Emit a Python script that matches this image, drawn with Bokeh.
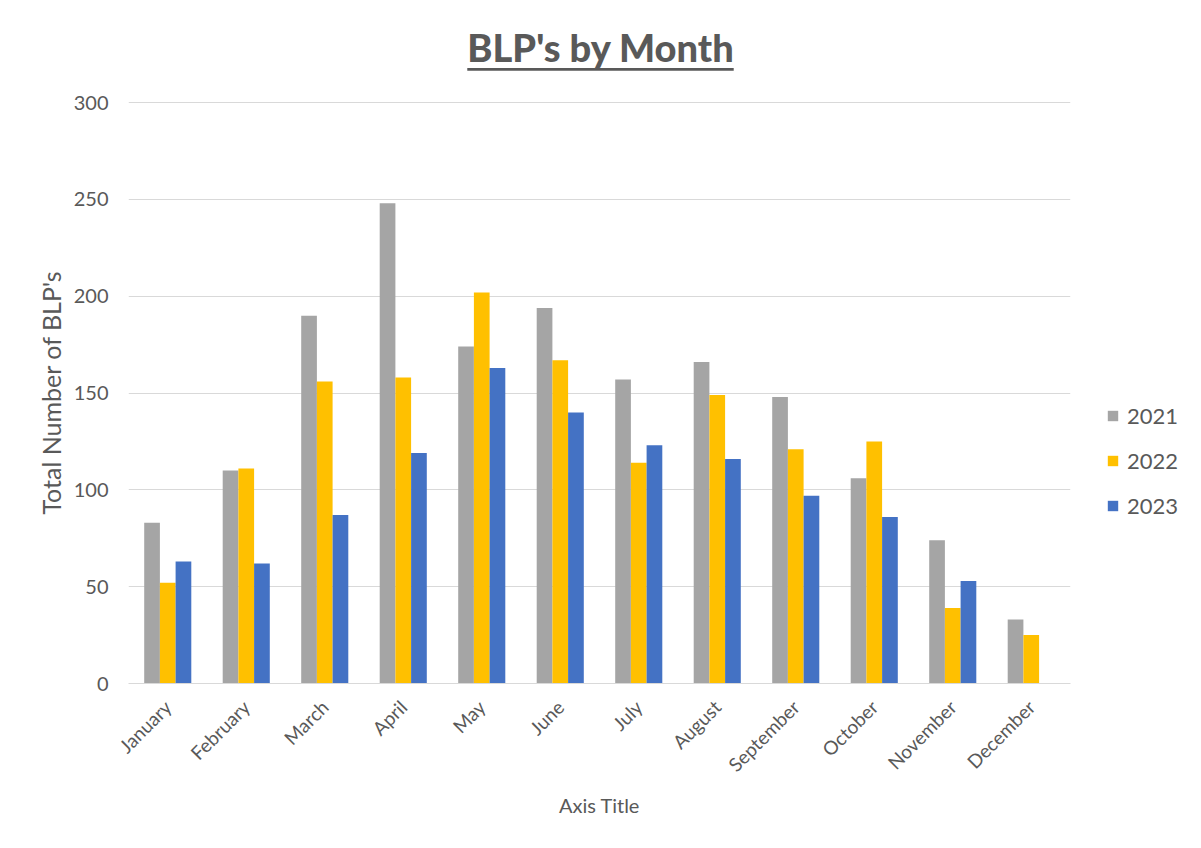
import math
from bokeh.plotting import figure
from bokeh.models import ColumnDataSource, FactorRange, Range1d, FixedTicker, Legend, LegendItem, Div
from bokeh.layouts import column
from bokeh.transform import dodge
from bokeh.embed import file_html
from bokeh.resources import INLINE

months = ["January", "February", "March", "April", "May", "June", "July",
          "August", "September", "October", "November", "December"]
y2021 = [83, 110, 190, 248, 174, 194, 157, 166, 148, 106, 74, 33]
y2022 = [52, 111, 156, 158, 202, 167, 114, 149, 121, 125, 39, 25]
y2023 = [63, 62, 87, 119, 163, 140, 123, 116, 97, 86, 53, 0]
series_names = ["2021", "2022", "2023"]
colors = ["#A5A5A5", "#FFC000", "#4472C4"]
y_ticks = [0, 50, 100, 150, 200, 250, 300]

FONT = "Lato"
TXT = "#595959"

source = ColumnDataSource(dict(month=months, y2021=y2021, y2022=y2022, y2023=y2023))

title = Div(
    text="<div style=\"width:1201px;text-align:center;font-family:'Lato';font-weight:900;"
         "font-size:38px;color:#595959;text-decoration:underline;text-underline-offset:6px;"
         "text-decoration-thickness:3px;padding-top:20px;\">BLP's by Month</div>",
    width=1185, height=70, margin=(0, 0, 0, 0))

p = figure(x_range=FactorRange(*months), y_range=Range1d(0, 300.6),
           frame_width=942, frame_height=582, output_backend="svg", toolbar_location=None,
           min_border_left=128, min_border_right=115, min_border_top=31, min_border_bottom=149,
           margin=(0, 0, 0, 0))
p.x_range.range_padding = 0

renderers = []
for key, off, col in zip(["y2021", "y2022", "y2023"], [-0.2, 0.0, 0.2], colors):
    r = p.vbar(x=dodge("month", off, range=p.x_range), top=key, width=0.2,
               source=source, fill_color=col, line_color=None)
    renderers.append(r)

p.outline_line_color = None
p.xgrid.grid_line_color = None
p.ygrid.grid_line_color = "#D9D9D9"
p.ygrid.grid_line_width = 1

p.yaxis.ticker = FixedTicker(ticks=y_ticks)
p.yaxis.axis_line_color = None
p.yaxis.major_tick_line_color = None
p.yaxis.minor_tick_line_color = None
p.yaxis.major_label_text_font = FONT
p.yaxis.major_label_text_font_size = "20px"
p.yaxis.major_label_text_color = TXT
p.yaxis.axis_label = "Total Number of BLP's"
p.yaxis.axis_label_text_font = FONT
p.yaxis.axis_label_text_font_size = "25px"
p.yaxis.axis_label_text_font_style = "normal"
p.yaxis.axis_label_text_color = TXT
p.yaxis.major_label_standoff = 14

p.xaxis.axis_line_color = "#D9D9D9"
p.xaxis.major_tick_line_color = None
p.xaxis.minor_tick_line_color = None
p.xaxis.major_label_orientation = math.pi / 4
p.xaxis.major_label_text_font = FONT
p.xaxis.major_label_text_font_size = "19px"
p.xaxis.major_label_text_color = TXT
p.xaxis.axis_label = "Axis Title"
p.xaxis.axis_label_text_font = FONT
p.xaxis.axis_label_text_font_size = "20px"
p.xaxis.axis_label_text_font_style = "normal"
p.xaxis.axis_label_text_color = TXT
p.xaxis.major_label_standoff = 14
p.xaxis.axis_label_standoff = 6

legend = Legend(items=[LegendItem(label=n, renderers=[r]) for n, r in zip(series_names, renderers)],
                location=(36, 164), border_line_color=None, background_fill_alpha=0,
                padding=0, margin=0,
                label_text_font=FONT, label_text_font_size="22px", label_text_color=TXT,
                glyph_width=13, glyph_height=13, spacing=18, label_standoff=8)
p.add_layout(legend, "right")

layout = column(title, p, spacing=0)
open("out.html", "w").write(file_html(layout, INLINE))
